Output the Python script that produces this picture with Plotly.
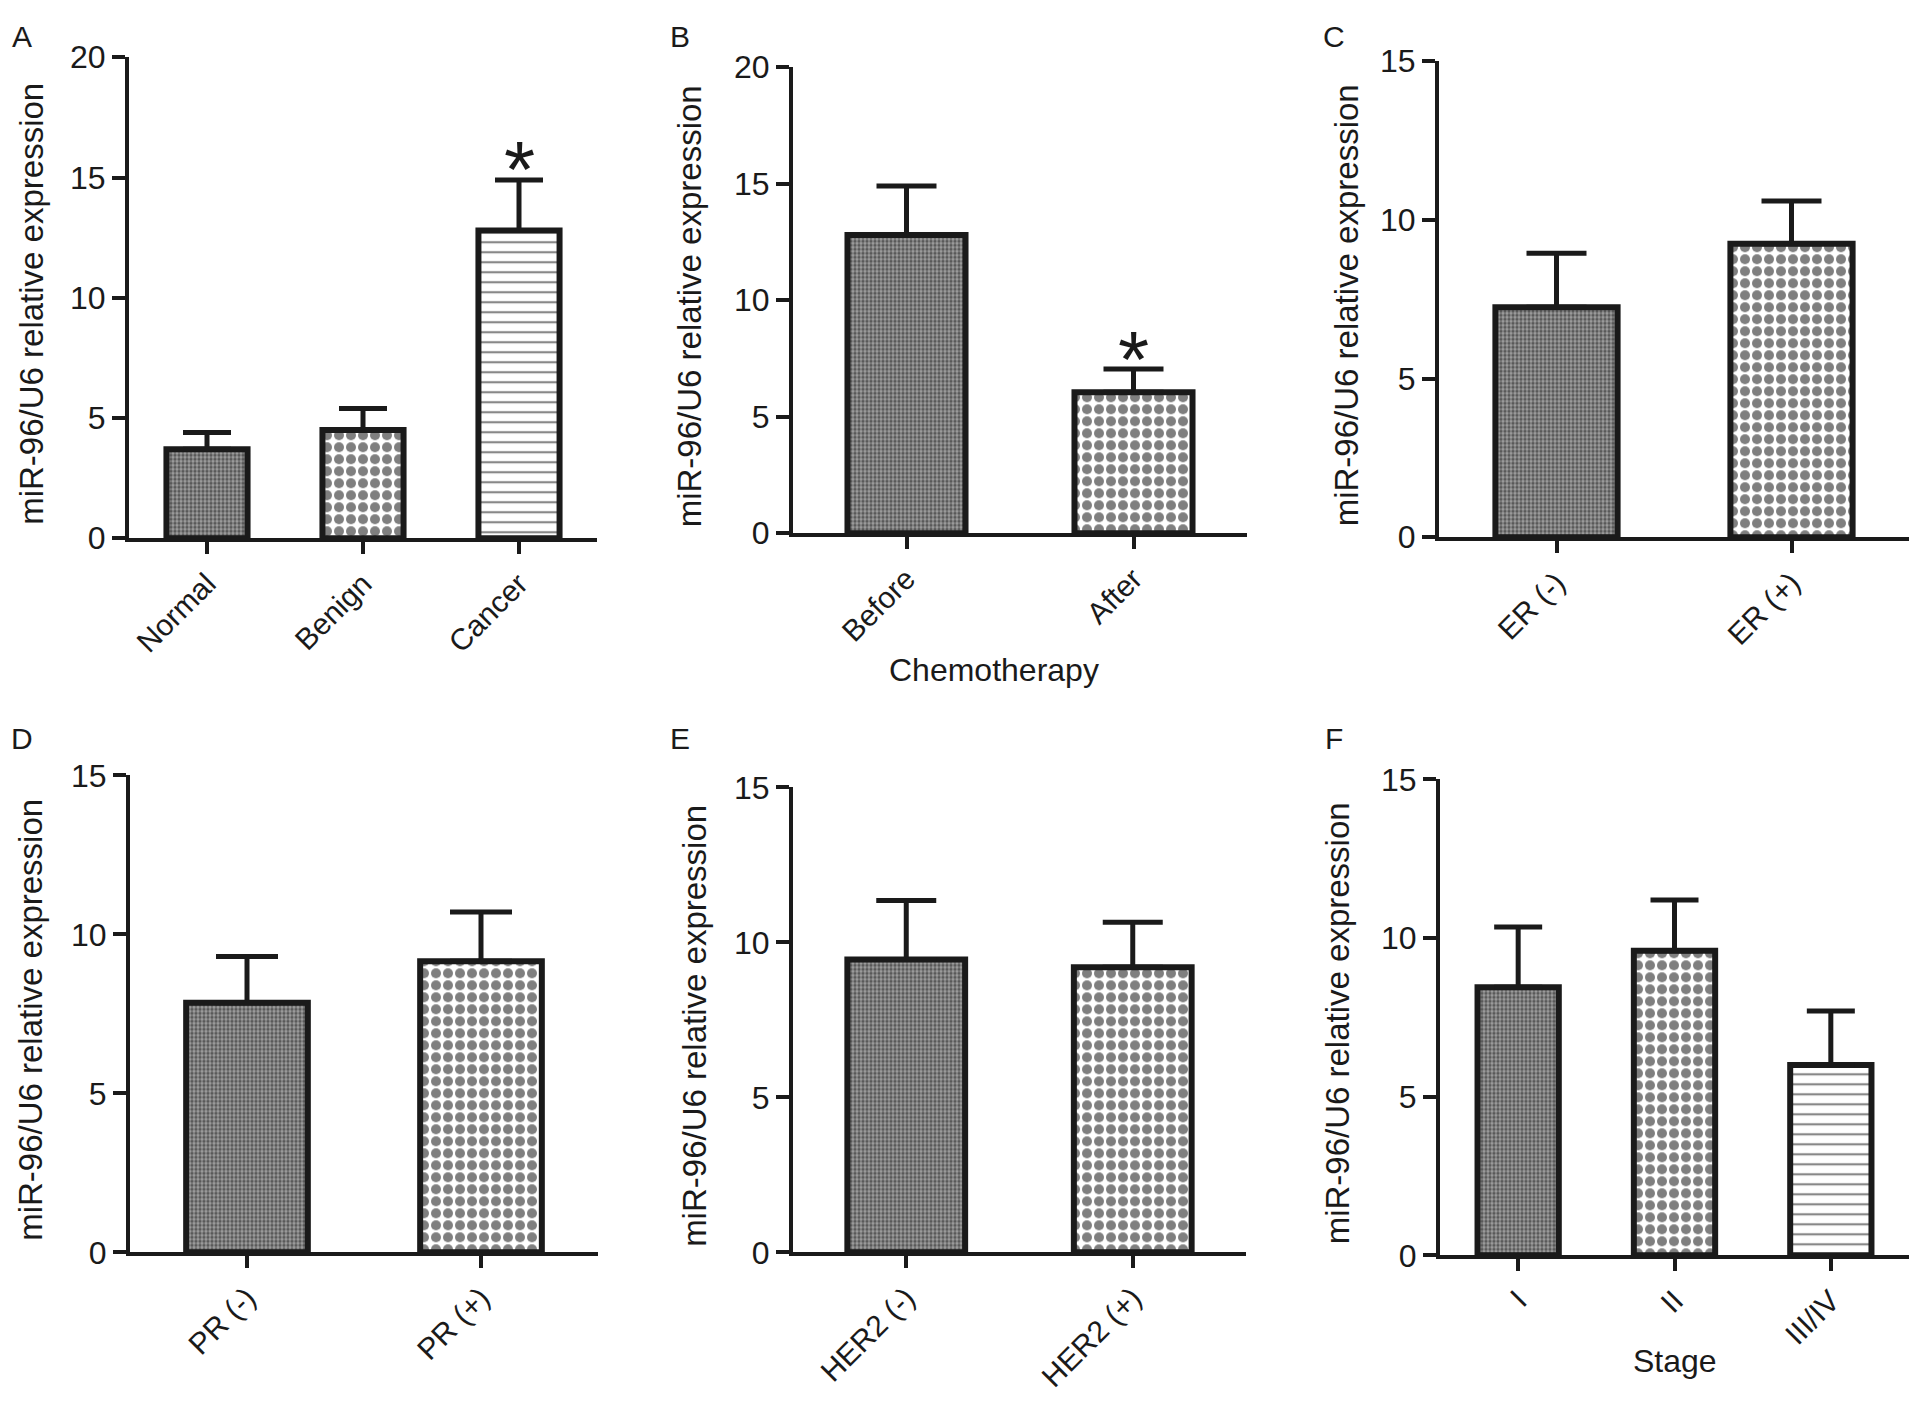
import plotly.graph_objects as go

# page body keeps its 8px default margin, so the figure is 16px smaller than the window
W, H = 1904, 1392
OFF = 8
VSTRETCH = 1 / 0.97   # the capture comes out slightly squashed vertically


def px(x):
    return (x - OFF) / W


def py(y):
    y = 704 + (y - 704) * VSTRETCH
    return 1 - (y - OFF) / H


def py_raw(y):
    return 1 - (y - OFF) / H


ylab = 'miR-96/U6 relative expression'

# data (mean, upper SD)
a_cats = ['Normal', 'Benign', 'Cancer']
a_mean = [3.7, 4.5, 12.8]
a_err = [0.7, 0.9, 2.1]

b_cats = ['Before', 'After']
b_mean = [12.8, 6.05]
b_err = [2.1, 1.0]

c_cats = ['ER (-)', 'ER (+)']
c_mean = [7.25, 9.25]
c_err = [1.7, 1.35]

d_cats = ['PR (-)', 'PR (+)']
d_mean = [7.85, 9.15]
d_err = [1.45, 1.55]

e_cats = ['HER2 (-)', 'HER2 (+)']
e_mean = [9.45, 9.2]
e_err = [1.9, 1.45]

f_cats = ['I', 'II', 'III/IV']
f_mean = [8.45, 9.6, 6.0]
f_err = [1.9, 1.6, 1.7]

# fill styles, one per bar
FINE = dict(shape='.', size=4, solidity=0.55, fg='#111', bg='#a0a0a0')
CHECK = dict(shape='.', size=12, solidity=0.55, fg='#000', bg='white')
LINES = dict(shape='-', size=10, solidity=0.22, fg='#111', bg='white')

panels = [
    # letter, cats, mean, err, fills, ymax, cap, x-extent, y-extent (px), letter pos, ytitle x, star cats
    ('A', a_cats, a_mean, a_err, [FINE, CHECK, LINES], 20, 24, (129, 597), (60, 539), (22, 19), 32, ['Cancer']),
    ('B', b_cats, b_mean, b_err, [FINE, CHECK], 20, 30, (793, 1247), (70, 534), (680, 19), 689, ['After']),
    ('C', c_cats, c_mean, c_err, [FINE, CHECK], 15, 30, (1439, 1909), (64, 538), (1334, 19), 1346, []),
    ('D', d_cats, d_mean, d_err, [FINE, CHECK], 15, 31, (130, 598), (775, 1250), (22, 738), 31, []),
    ('E', e_cats, e_mean, e_err, [FINE, CHECK], 15, 30, (793, 1246), (787, 1250), (680, 738), 695, []),
    ('F', f_cats, f_mean, f_err, [FINE, CHECK, LINES], 15, 24, (1440, 1909), (779, 1253), (1334, 738), 1337, []),
]

font = 'Liberation Sans, Arial, sans-serif'
ink = '#1a1a1a'

fig = go.Figure()
annotations = []

for i, (letter, cats, mean, err, fills, ymax, cap, xs, ys, lpos, ytx, stars) in enumerate(panels):
    n = i + 1
    xa = 'x' if n == 1 else 'x%d' % n
    ya = 'y' if n == 1 else 'y%d' % n
    fig.add_trace(go.Bar(
        x=cats, y=mean,
        xaxis=xa, yaxis=ya,
        width=0.52,
        showlegend=False,
        marker=dict(
            color='white',
            line=dict(color=ink, width=6),
            pattern=dict(
                shape=[f['shape'] for f in fills],
                size=[f['size'] for f in fills],
                solidity=[f['solidity'] for f in fills],
                fgcolor=[f['fg'] for f in fills],
                bgcolor=[f['bg'] for f in fills],
            ),
        ),
        error_y=dict(type='data', symmetric=False, array=err,
                     arrayminus=[0] * len(err),
                     color=ink, thickness=5, width=cap),
    ))
    xkey = 'xaxis' if n == 1 else 'xaxis%d' % n
    ykey = 'yaxis' if n == 1 else 'yaxis%d' % n
    fig.update_layout({
        xkey: dict(
            domain=[px(xs[0]), px(xs[1])],
            anchor=ya, type='category',
            range=[-0.5, len(cats) - 0.5],
            showline=True, linewidth=4, linecolor=ink,
            ticks='outside', ticklen=12, tickwidth=4, tickcolor=ink,
            tickangle=-45, showgrid=False, zeroline=False,
            tickfont=dict(family=font, size=30, color=ink),
        ),
        ykey: dict(
            domain=[py(ys[1]), py(ys[0])],
            anchor=xa, range=[0, ymax], dtick=5,
            showline=True, linewidth=4, linecolor=ink,
            ticks='outside', ticklen=13, tickwidth=4, tickcolor=ink,
            showgrid=False, zeroline=False,
            tickfont=dict(family=font, size=32, color=ink),
        ),
    })
    # panel letter (top-row letters kept fully inside the page)
    ly = py_raw(lpos[1]) if lpos[1] < 100 else py(lpos[1])
    annotations.append(dict(text=letter, x=px(lpos[0]), y=ly,
                            xref='paper', yref='paper', showarrow=False,
                            xanchor='center', yanchor='middle',
                            font=dict(family=font, size=30, color=ink)))
    # y title
    annotations.append(dict(text=ylab, x=px(ytx), y=py((ys[0] + ys[1]) / 2 + 6),
                            xref='paper', yref='paper', showarrow=False,
                            textangle=-90, xanchor='center', yanchor='middle',
                            font=dict(family=font, size=33, color=ink)))
    # significance stars
    for c in stars:
        k = cats.index(c)
        annotations.append(dict(text='*', x=c, y=mean[k] + err[k],
                                xref=xa, yref=ya, showarrow=False,
                                xanchor='center', yanchor='middle', yshift=10,
                                font=dict(family=font, size=80, color=ink)))

annotations.append(dict(text='Chemotherapy', x=px(994), y=py(670),
                        xref='paper', yref='paper', showarrow=False,
                        xanchor='center', yanchor='middle',
                        font=dict(family=font, size=32, color=ink)))
annotations.append(dict(text='Stage', x=px(1675), y=py(1358),
                        xref='paper', yref='paper', showarrow=False,
                        xanchor='center', yanchor='middle',
                        font=dict(family=font, size=32, color=ink)))

fig.update_layout(
    width=W, height=H,
    margin=dict(l=0, r=0, t=0, b=0),
    paper_bgcolor='white', plot_bgcolor='white',
    font=dict(family=font, color=ink),
    bargap=0.48,
    annotations=annotations,
)

fig.write_html("out.html")
